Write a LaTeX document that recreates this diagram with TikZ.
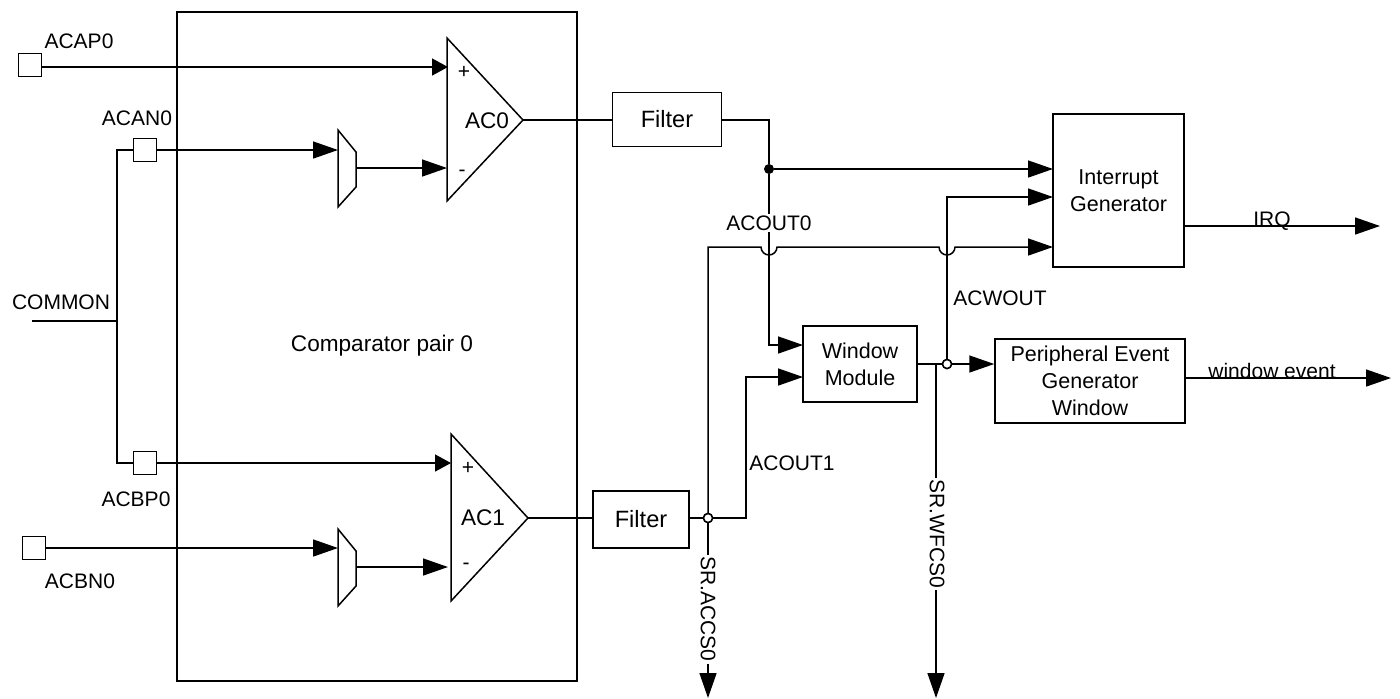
\documentclass[tikz,border=0pt]{standalone}
\usepackage{fontspec}
\setmainfont{Liberation Sans}
\usetikzlibrary{arrows.meta,positioning}
\tikzset{
  wire/.style={line width=0.75pt},
  sig/.style={wire,-{Triangle[length=12.5pt,width=8.5pt]}},
  shortsig/.style={wire,-{Triangle[length=8pt,width=8.5pt]}},
  pad/.style={draw,line width=0.75pt,fill=white,minimum size=11.5pt,inner sep=0pt},
  block/.style={draw,line width=0.75pt,fill=white,align=center,inner sep=0pt},
  amp/.style={draw,line width=0.75pt,line join=miter,fill=white},
  tag/.style={inner sep=0pt,font=\fontsize{10.5}{13.5}\selectfont},
  bigtag/.style={inner sep=0pt,font=\fontsize{11.3}{13.5}\selectfont},
  cuttag/.style={fill=white,inner sep=1pt,font=\fontsize{10.5}{13.5}\selectfont},
  opendot/.style={circle,draw,line width=0.75pt,fill=white,minimum size=4.5pt,inner sep=0pt},
  soliddot/.style={circle,fill=black,minimum size=5pt,inner sep=0pt}
}
\begin{document}
\begin{tikzpicture}[x=0.5pt,y=-0.5pt,font=\fontsize{10.75}{13.5}\selectfont]
\useasboundingbox (0,0) rectangle (1400,698);
\draw[wire] (177,12) rectangle (577,681);
\node[bigtag] (pairlbl) at (382,346) {Comparator pair 0};

\node[pad] (acap) at (30,65) {};
\node[pad] (acan) at (145,150) {};
\node[pad] (acbp) at (145,463) {};
\node[pad] (acbn) at (34,548) {};
\node[tag] (acaplbl) at (79,41) {ACAP0};
\node[tag] (acanlbl) at (137,118) {ACAN0};
\node[tag] (acbplbl) at (136,499) {ACBP0};
\node[tag] (acbnlbl) at (80,581) {ACBN0};
\node[tag] (commonlbl) at (61,302) {COMMON};

\coordinate (busa) at (117,150);
\coordinate (busb) at (117,463);
\coordinate (busc) at (117,321);
\coordinate (comin) at (32,321);
\draw[wire] (acan.west) -- (busa) -- (busb) -- (acbp.west);
\draw[wire] (comin) -- (busc);

\foreach \n/\y in {0/0,1/399} {
  \draw[amp] (338,130+\y) -- (356,152+\y) -- (356,187+\y) -- (338,207+\y) -- cycle;
  \coordinate (mux\n in) at (338,150+\y);
  \coordinate (mux\n out) at (356,168+\y);
}
\draw[amp] (447,38) -- (523,120) -- (447,201) -- cycle;
\draw[amp] (451,434) -- (528,518) -- (451,601) -- cycle;
\coordinate (ac0p) at (448,67);
\coordinate (ac0n) at (447,168);
\coordinate (ac0out) at (523,120);
\coordinate (ac1p) at (451,463);
\coordinate (ac1n) at (448,567);
\coordinate (ac1out) at (528,518);
\node[bigtag] (ac0lbl) at (487,121) {AC0};
\node[bigtag] (ac1lbl) at (483,518) {AC1};
\node[tag] (ac0plus) at (464,72) {+};
\node[tag] (ac0minus) at (462,173) {-};
\node[tag] (ac1plus) at (468,468) {+};
\node[tag] (ac1minus) at (466,566) {-};

\draw[shortsig] (acap.east |- ac0p) -- (ac0p);
\draw[sig] (acan.east) -- (mux0in);
\draw[sig] (mux0out) -- (ac0n);
\draw[shortsig] (acbp.east) -- (ac1p);
\draw[sig] (acbn.east) -- (acbn.east -| mux1in);
\draw[sig] (mux1out) -- (ac1n);

\node[block,minimum width=54.5pt,minimum height=27pt,font=\fontsize{11.8}{13.5}\selectfont] (filter0) at (667,119.5) {Filter};
\node[block,minimum width=48pt,minimum height=28.5pt,font=\fontsize{11.8}{13.5}\selectfont] (filter1) at (641,519.5) {Filter};
\node[block,minimum width=57pt,minimum height=38pt] (window) at (860,364) {Window\\Module};
\node[block,minimum width=65.5pt,minimum height=76.5pt] (irq) at (1118.5,190.5) {Interrupt\\Generator};
\node[block,minimum width=95pt,minimum height=42pt] (pevent) at (1090,381) {Peripheral Event\\Generator\\Window};

\draw[wire] (ac0out) -- (filter0.west |- ac0out);
\draw[wire] (ac1out) -- (filter1.west |- ac1out);

\node[soliddot] (dota) at (769,169) {};
\node[opendot] (dotb) at (708,518) {};
\node[opendot] (dotc) at (947,364) {};
\coordinate (irqa) at (1053,169);
\coordinate (irqb) at (1053,197);
\coordinate (irqc) at (1053,247);
\coordinate (wina) at (803,345);
\coordinate (winb) at (803,377);
\coordinate (outb) at (746,518);
\coordinate (srbase) at (708,698);
\coordinate (wfbase) at (936,698);
\coordinate (wfjoin) at (936,364);
\coordinate (irqout) at (1380,226);
\coordinate (evout) at (1391,378);

\draw[wire] (filter0.east |- 0,120) -- (769,120) -- (dota);
\draw[sig] (dota) -- (irqa);
\draw[sig] (dota) -- (769,345) -- (wina);
\draw[sig] (dotc) |- (irqb);
\draw[wire] (filter1.east |- dotb) -- (dotb);
\draw[sig] (dotb) -- (outb) -- (746,377) -- (winb);
\draw[sig] (dotb) -- (708,247) -- (761,247) arc[start angle=180,end angle=0,radius=8] -- (939,247) arc[start angle=180,end angle=0,radius=8] -- (irqc);
\draw[sig] (dotb) -- (srbase);
\draw[wire] (window.east |- dotc) -- (dotc);
\draw[sig] (wfjoin) -- (wfbase);
\draw[sig] (dotc) -- (pevent.west |- dotc);
\draw[sig] (irq.east |- irqout) -- (irqout);
\draw[sig] (pevent.east |- evout) -- (evout);
\node[opendot] at (dotb) {};
\node[opendot] at (dotc) {};

\node[cuttag] (acout0lbl) at (769,223) {ACOUT0};
\node[tag] (acout1lbl) at (792,463) {ACOUT1};
\node[tag] (acwoutlbl) at (1000,298) {ACWOUT};
\node[cuttag,rotate=-90] (accslbl) at (708,609) {SR.ACCS0};
\node[cuttag,rotate=-90] (wfcslbl) at (937,534) {SR.WFCS0};
\node[tag] (irqlbl) at (1272,221) {IRQ};
\node[tag] (evlbl) at (1272,371) {window event};
\end{tikzpicture}
\end{document}
